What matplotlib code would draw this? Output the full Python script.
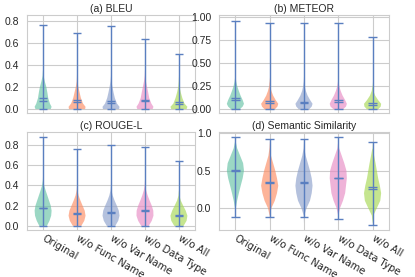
import numpy as np
import matplotlib
matplotlib.use('Agg')
import matplotlib.pyplot as plt
import seaborn as sns

sns.set_style('whitegrid')
plt.rcParams['font.family'] = ['Liberation Sans', 'DejaVu Sans']

variantes = ['Original', 'w/o Func Name', 'w/o Var Name', 'w/o Data Type', 'w/o All']
colores = ['#66c2a5', '#fc8d62', '#8da0cb', '#e78ac3', '#a6d854']
color_linea = '#5a7fc0'

# (a) BLEU
bleu_min = [0.0, 0.0, 0.0, 0.0, 0.0]
bleu_max = [0.765, 0.685, 0.75, 0.63, 0.50]
bleu_mean = [0.097, 0.078, 0.076, 0.086, 0.065]
bleu_median = [0.075, 0.060, 0.058, 0.070, 0.045]
bleu_coords = [0.0, 0.02, 0.05, 0.1, 0.15, 0.2, 0.25, 0.3, 0.35]
bleu_dens = [
    [0.9, 1.0, 0.8, 0.6, 0.5, 0.38, 0.2, 0.06, 0.02],
    [0.95, 1.0, 0.7, 0.45, 0.3, 0.15, 0.04, 0.01, 0.0],
    [0.95, 1.0, 0.7, 0.45, 0.3, 0.17, 0.06, 0.01, 0.0],
    [0.9, 1.0, 0.75, 0.5, 0.38, 0.25, 0.12, 0.03, 0.0],
    [0.9, 1.0, 0.65, 0.4, 0.22, 0.08, 0.02, 0.0, 0.0],
]

# (b) METEOR
meteor_min = [0.0, 0.0, 0.0, 0.0, 0.0]
meteor_max = [0.96, 0.94, 0.94, 0.94, 0.785]
meteor_mean = [0.125, 0.09, 0.085, 0.10, 0.07]
meteor_median = [0.10, 0.07, 0.068, 0.08, 0.05]
meteor_coords = [0.0, 0.03, 0.06, 0.1, 0.15, 0.2, 0.25, 0.3, 0.35, 0.4]
meteor_dens = [
    [0.5, 0.85, 1.0, 0.85, 0.6, 0.4, 0.22, 0.1, 0.03, 0.0],
    [0.6, 0.9, 1.0, 0.7, 0.4, 0.2, 0.07, 0.02, 0.0, 0.0],
    [0.6, 0.9, 1.0, 0.72, 0.42, 0.22, 0.1, 0.03, 0.0, 0.0],
    [0.55, 0.9, 1.0, 0.8, 0.5, 0.28, 0.12, 0.04, 0.0, 0.0],
    [0.65, 0.95, 1.0, 0.65, 0.3, 0.1, 0.02, 0.0, 0.0, 0.0],
]

# (c) ROUGE-L
rouge_min = [0.0, 0.0, 0.0, 0.0, 0.0]
rouge_max = [0.875, 0.76, 0.80, 0.775, 0.64]
rouge_mean = [0.178, 0.128, 0.133, 0.152, 0.108]
rouge_median = [0.172, 0.122, 0.127, 0.142, 0.102]
rouge_coords = [0.0, 0.05, 0.1, 0.15, 0.2, 0.25, 0.3, 0.35, 0.4, 0.45, 0.5]
rouge_dens = [
    [0.45, 0.75, 0.95, 1.0, 0.9, 0.7, 0.5, 0.3, 0.12, 0.03, 0.0],
    [0.5, 0.85, 1.0, 0.9, 0.65, 0.4, 0.18, 0.05, 0.0, 0.0, 0.0],
    [0.5, 0.85, 1.0, 0.92, 0.68, 0.42, 0.2, 0.06, 0.01, 0.0, 0.0],
    [0.45, 0.8, 1.0, 0.98, 0.8, 0.55, 0.32, 0.14, 0.03, 0.0, 0.0],
    [0.55, 0.9, 1.0, 0.8, 0.5, 0.22, 0.05, 0.0, 0.0, 0.0, 0.0],
]

# (d) Semantic Similarity
sem_min = [-0.12, -0.12, -0.12, -0.15, -0.23]
sem_max = [0.95, 0.92, 0.92, 0.95, 0.88]
sem_mean = [0.505, 0.345, 0.345, 0.405, 0.285]
sem_median = [0.50, 0.34, 0.34, 0.40, 0.26]
sem_coords = [-0.2, -0.1, 0.0, 0.1, 0.2, 0.3, 0.4, 0.5, 0.6, 0.7, 0.8, 0.9]
sem_dens = [
    [0.0, 0.0, 0.05, 0.2, 0.4, 0.62, 0.85, 1.0, 0.9, 0.55, 0.2, 0.02],
    [0.0, 0.01, 0.2, 0.6, 0.85, 1.0, 0.85, 0.65, 0.4, 0.15, 0.03, 0.0],
    [0.0, 0.03, 0.3, 0.7, 0.9, 1.0, 0.9, 0.7, 0.45, 0.2, 0.04, 0.0],
    [0.0, 0.01, 0.2, 0.55, 0.8, 0.9, 1.0, 0.95, 0.7, 0.4, 0.1, 0.0],
    [0.01, 0.08, 0.5, 0.9, 1.0, 0.85, 0.65, 0.5, 0.35, 0.18, 0.02, 0.0],
]

paneles = [
    ('(a) BLEU', bleu_min, bleu_max, bleu_mean, bleu_median, bleu_coords, bleu_dens,
     (-0.036, 0.852), [0.0, 0.2, 0.4, 0.6, 0.8], '{:.1f}'),
    ('(b) METEOR', meteor_min, meteor_max, meteor_mean, meteor_median, meteor_coords, meteor_dens,
     (-0.04, 1.025), [0.0, 0.25, 0.5, 0.75, 1.0], '{:.2f}'),
    ('(c) ROUGE-L', rouge_min, rouge_max, rouge_mean, rouge_median, rouge_coords, rouge_dens,
     (-0.04, 0.929), [0.0, 0.2, 0.4, 0.6, 0.8], '{:.1f}'),
    ('(d) Semantic Similarity', sem_min, sem_max, sem_mean, sem_median, sem_coords, sem_dens,
     (-0.29, 1.018), [0.0, 0.5, 1.0], '{:.1f}'),
]

fig = plt.figure(figsize=(4.15, 2.77), dpi=100)
cajas = [
    [0.065, 0.592, 0.405, 0.354],
    [0.528, 0.592, 0.409, 0.354],
    [0.065, 0.170, 0.405, 0.354],
    [0.528, 0.170, 0.409, 0.354],
]
fs = 7.5

for i, (titulo, mn, mx, me, md, coords, dens, ylim, yt, fmt) in enumerate(paneles):
    ax = fig.add_axes(cajas[i])
    stats = []
    for j in range(5):
        stats.append({'coords': np.array(coords), 'vals': np.array(dens[j]),
                      'mean': me[j], 'median': md[j], 'min': mn[j], 'max': mx[j]})
    partes = ax.violin(stats, positions=[1, 2, 3, 4, 5], widths=0.5,
                       showmeans=True, showextrema=True, showmedians=True)
    for cuerpo, c in zip(partes['bodies'], colores):
        cuerpo.set_facecolor(c)
        cuerpo.set_edgecolor('none')
        cuerpo.set_alpha(0.65)
    for k in ['cbars', 'cmins', 'cmaxes', 'cmeans', 'cmedians']:
        partes[k].set_color(color_linea)
        partes[k].set_linewidth(1.0)
    ax.set_xlim(0.525, 5.475)
    ax.set_ylim(*ylim)
    ax.set_yticks(yt)
    ax.set_yticklabels([fmt.format(v) for v in yt], fontsize=fs)
    ax.set_xticks([1, 2, 3, 4, 5])
    if i >= 2:
        # Liberation Sans deja la barra casi invisible a este tamaño
        ax.set_xticklabels(variantes, rotation=-30, ha='left', va='center',
                           rotation_mode='anchor', fontsize=fs - 0.3,
                           family=['DejaVu Sans'])
    else:
        ax.set_xticklabels([])
    ax.tick_params(axis='both', pad=2)
    ax.set_title(titulo, fontsize=fs, pad=2)

fig.savefig('out.png', dpi=100)
